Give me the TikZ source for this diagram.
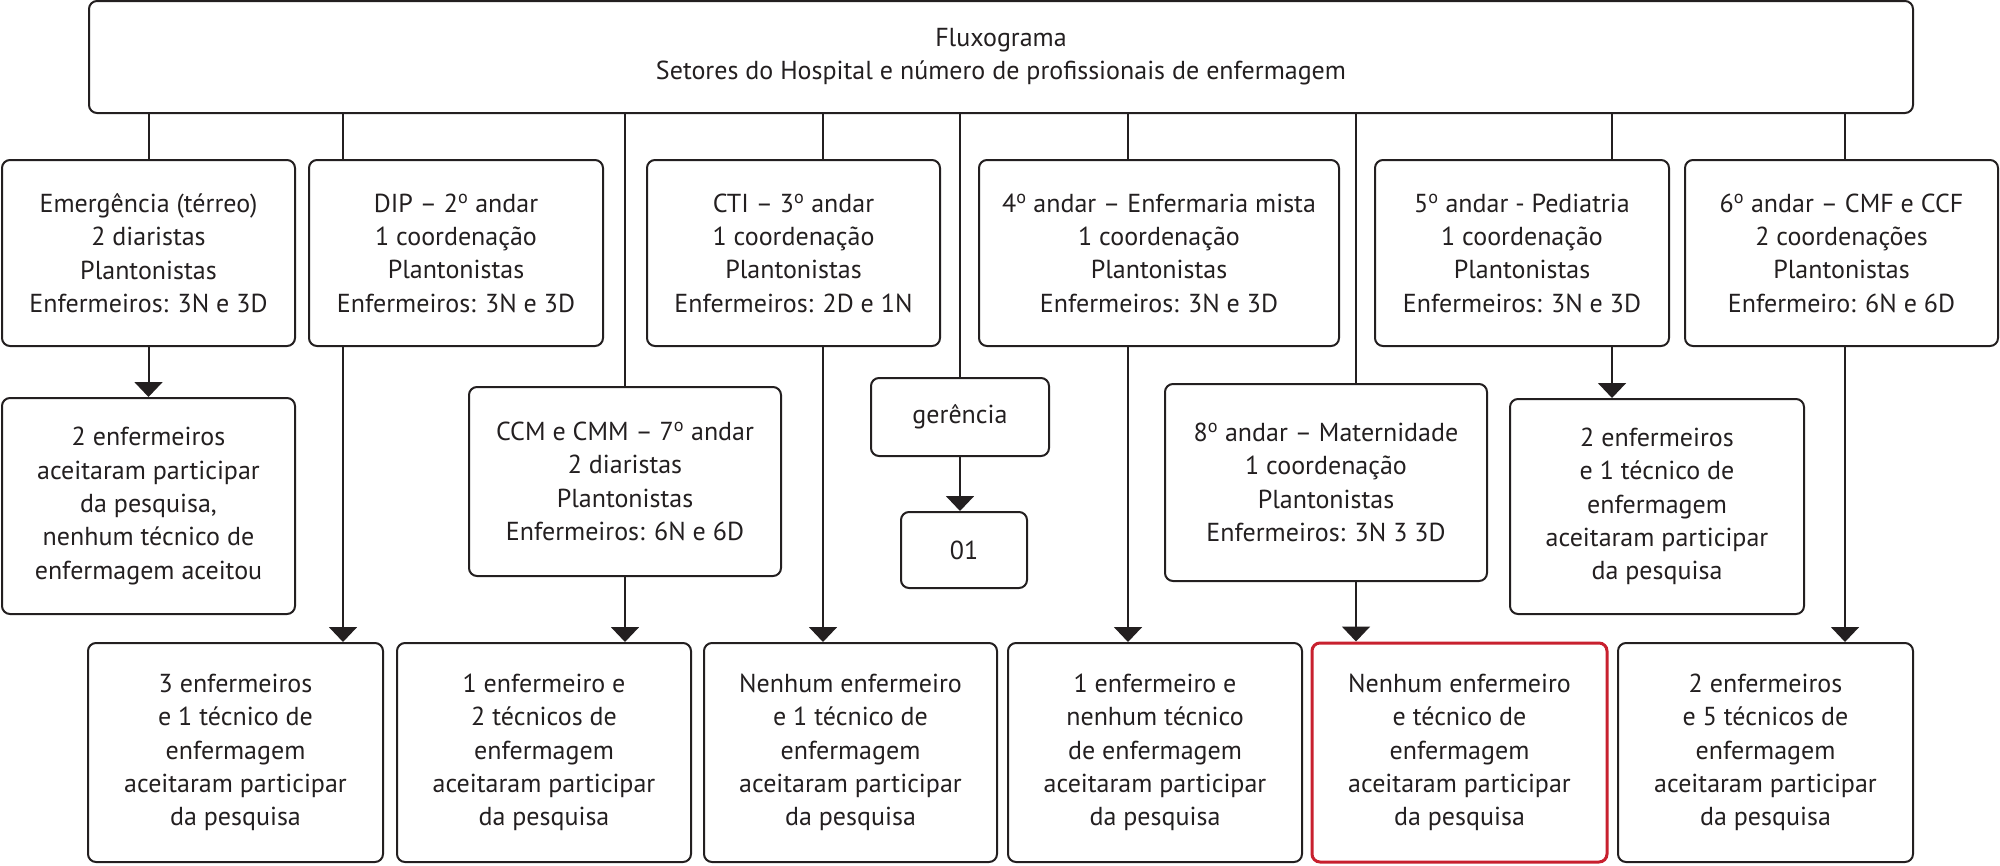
\documentclass[tikz,border=0pt]{standalone}
\usepackage{fontspec}
\setmainfont{PT Sans}
\usetikzlibrary{arrows.meta}
\definecolor{ink}{HTML}{231F20}
\definecolor{redbox}{HTML}{C8202E}
\newcommand{\ord}{\textsuperscript{o}}
\begin{document}
\begin{tikzpicture}[x=1pt,y=-1pt,
  bx/.style={draw=ink, line width=2pt, rounded corners=8pt, align=center, inner sep=0pt,
    text=ink, font=\fontsize{26}{33.3}\selectfont},
  conn/.style={draw=ink, line width=2pt},
  arr/.style={draw=ink, line width=2pt, -{Triangle[width=28pt,length=15pt]}}]
\useasboundingbox (0,0) rectangle (2000,865);
% top
\node[bx, minimum width=1824pt, minimum height=112pt] (top) at (1001,57)
  {Fluxograma\\Setores do Hospital e número de profissionais de enfermagem};
% row 1
\node[bx, minimum width=293pt, minimum height=186pt] (e1) at (148.5,253)
  {Emergência (térreo)\\2 diaristas\\Plantonistas\\Enfermeiros: 3N e 3D};
\node[bx, minimum width=294pt, minimum height=186pt] (e2) at (456,253)
  {DIP – 2\ord{} andar\\1 coordenação\\Plantonistas\\Enfermeiros: 3N e 3D};
\node[bx, minimum width=293pt, minimum height=186pt] (e3) at (793.5,253)
  {CTI – 3\ord{} andar\\1 coordenação\\Plantonistas\\Enfermeiros: 2D e 1N};
\node[bx, minimum width=360pt, minimum height=186pt] (e4) at (1159,253)
  {4\ord{} andar – Enfermaria mista\\1 coordenação\\Plantonistas\\Enfermeiros: 3N e 3D};
\node[bx, minimum width=294pt, minimum height=186pt] (e5) at (1522,253)
  {5\ord{} andar - Pediatria\\1 coordenação\\Plantonistas\\Enfermeiros: 3N e 3D};
\node[bx, minimum width=313pt, minimum height=186pt] (e6) at (1841.5,253)
  {6\ord{} andar – CMF e CCF\\2 coordenações\\Plantonistas\\Enfermeiro: 6N e 6D};
% row 2
\node[bx, minimum width=293pt, minimum height=216pt] (r1) at (148.5,506)
  {2 enfermeiros\\aceitaram participar\\da pesquisa,\\nenhum técnico de\\enfermagem aceitou};
\node[bx, minimum width=312pt, minimum height=189pt] (ccm) at (625,481.5)
  {CCM e CMM – 7\ord{} andar\\2 diaristas\\Plantonistas\\Enfermeiros: 6N e 6D};
\node[bx, minimum width=178pt, minimum height=78pt] (ger) at (960,417) {gerência};
\node[bx, minimum width=126pt, minimum height=76pt] (o1) at (964,550) {01};
\node[bx, minimum width=322pt, minimum height=197pt] (m8) at (1326,482.5)
  {8\ord{} andar – Maternidade\\1 coordenação\\Plantonistas\\Enfermeiros: 3N 3 3D};
\node[bx, minimum width=294pt, minimum height=215pt] (r5) at (1657,506.5)
  {2 enfermeiros\\e 1 técnico de\\enfermagem\\aceitaram participar\\da pesquisa};
% row 3
\node[bx, minimum width=295pt, minimum height=219pt] (bA) at (235.5,752.5)
  {3 enfermeiros\\e 1 técnico de\\enfermagem\\aceitaram participar\\da pesquisa};
\node[bx, minimum width=294pt, minimum height=219pt] (bB) at (544,752.5)
  {1 enfermeiro e\\2 técnicos de\\enfermagem\\aceitaram participar\\da pesquisa};
\node[bx, minimum width=293pt, minimum height=219pt] (bC) at (850.5,752.5)
  {Nenhum enfermeiro\\e 1 técnico de\\enfermagem\\aceitaram participar\\da pesquisa};
\node[bx, minimum width=294pt, minimum height=219pt] (bD) at (1155,752.5)
  {1 enfermeiro e\\nenhum técnico\\de enfermagem\\aceitaram participar\\da pesquisa};
\node[bx, draw=redbox, line width=3pt, minimum width=295pt, minimum height=219pt] (bE) at (1459.5,752.5)
  {Nenhum enfermeiro\\e técnico de\\enfermagem\\aceitaram participar\\da pesquisa};
\node[bx, minimum width=295pt, minimum height=219pt] (bF) at (1765.5,752.5)
  {2 enfermeiros\\e 5 técnicos de\\enfermagem\\aceitaram participar\\da pesquisa};
% connector x positions
\coordinate (x2) at (343,0);
\coordinate (x3) at (823,0);
\coordinate (x4) at (1128,0);
\coordinate (x8) at (1356,0);
\coordinate (x5) at (1612,0);
\coordinate (x6) at (1845,0);
% from top box
\draw[conn] (e1.north |- top.south) -- (e1.north);
\draw[conn] (x2 |- top.south) -- (x2 |- e2.north);
\draw[conn] (ccm.north |- top.south) -- (ccm.north);
\draw[conn] (x3 |- top.south) -- (x3 |- e3.north);
\draw[conn] (ger.north |- top.south) -- (ger.north);
\draw[conn] (x4 |- top.south) -- (x4 |- e4.north);
\draw[conn] (x8 |- top.south) -- (x8 |- m8.north);
\draw[conn] (x5 |- top.south) -- (x5 |- e5.north);
\draw[conn] (x6 |- top.south) -- (x6 |- e6.north);
% arrows
\draw[arr] (e1.south) -- (r1.north);
\draw[arr] (x2 |- e2.south) -- (x2 |- bA.north);
\draw[arr] (ccm.south) -- (ccm.south |- bB.north);
\draw[arr] (x3 |- e3.south) -- (x3 |- bC.north);
\draw[arr] (ger.south) -- (ger.south |- o1.north);
\draw[arr] (x4 |- e4.south) -- (x4 |- bD.north);
\draw[arr] (x8 |- m8.south) -- (x8 |- bE.north);
\draw[arr] (x5 |- e5.south) -- (x5 |- r5.north);
\draw[arr] (x6 |- e6.south) -- (x6 |- bF.north);
\end{tikzpicture}
\end{document}
